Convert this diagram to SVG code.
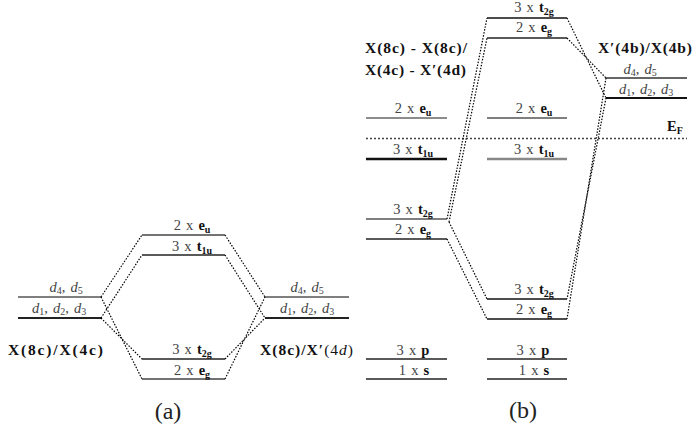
<svg xmlns="http://www.w3.org/2000/svg" width="695" height="429" viewBox="0 0 695 429">
<style>
text{font-family:"Liberation Serif","Times New Roman",serif;}
.lb{font-size:14.5px;fill:#444;word-spacing:1.5px;}
.b{font-weight:bold;fill:#111;}
.sb{font-size:10px;font-weight:bold;fill:#111;}
.s{font-size:10px;}
.i{font-style:italic;}
.big{font-weight:bold;font-size:15.5px;fill:#111;}
.big .r{font-weight:normal;}
.cap{font-size:24px;fill:#222;}
.lv{stroke-linecap:butt;fill:none;}
.dot{stroke:#000;stroke-width:1.2;stroke-dasharray:1.5 1.5;fill:none;}
</style>
<rect width="695" height="429" fill="#fff"/>

<!-- ===== Panel (a) ===== -->
<g id="a-left-d45">
<line class="lv" x1="18" y1="297" x2="101" y2="297" stroke="#555" stroke-width="1.3"/>
<text class="lb" x="66" y="292" text-anchor="middle"><tspan class="i">d</tspan><tspan class="s" dy="2">4</tspan><tspan dy="-2">, </tspan><tspan class="i">d</tspan><tspan class="s" dy="2">5</tspan></text>
</g>
<g id="a-left-d123">
<line class="lv" x1="18" y1="318" x2="101" y2="318" stroke="#222" stroke-width="2"/>
<text class="lb" x="59" y="313" text-anchor="middle"><tspan class="i">d</tspan><tspan class="s" dy="2">1</tspan><tspan dy="-2">, </tspan><tspan class="i">d</tspan><tspan class="s" dy="2">2</tspan><tspan dy="-2">, </tspan><tspan class="i">d</tspan><tspan class="s" dy="2">3</tspan></text>
</g>
<g id="a-left-label">
<text class="big" x="8" y="355" textLength="95" lengthAdjust="spacing">X(8c)/X(4c)</text>
</g>
<g id="a-eu">
<line class="lv" x1="142" y1="235" x2="225" y2="235" stroke="#444" stroke-width="1.4"/>
<text class="lb" x="192" y="230" text-anchor="middle">2 x <tspan class="b">e</tspan><tspan class="sb" dy="2.5">u</tspan></text>
</g>
<g id="a-t1u">
<line class="lv" x1="142" y1="255" x2="225" y2="255" stroke="#222" stroke-width="1.6"/>
<text class="lb" x="192" y="251" text-anchor="middle">3 x <tspan class="b">t</tspan><tspan class="sb" dy="2.5">1u</tspan></text>
</g>
<g id="a-t2g">
<line class="lv" x1="142" y1="359" x2="225" y2="359" stroke="#222" stroke-width="1.6"/>
<text class="lb" x="192" y="354" text-anchor="middle">3 x <tspan class="b">t</tspan><tspan class="sb" dy="2.5">2g</tspan></text>
</g>
<g id="a-eg">
<line class="lv" x1="142" y1="379" x2="225" y2="379" stroke="#444" stroke-width="1.4"/>
<text class="lb" x="192" y="375" text-anchor="middle">2 x <tspan class="b">e</tspan><tspan class="sb" dy="2.5">g</tspan></text>
</g>
<g id="a-right-d45">
<line class="lv" x1="265" y1="297" x2="349" y2="297" stroke="#555" stroke-width="1.3"/>
<text class="lb" x="307" y="292" text-anchor="middle"><tspan class="i">d</tspan><tspan class="s" dy="2">4</tspan><tspan dy="-2">, </tspan><tspan class="i">d</tspan><tspan class="s" dy="2">5</tspan></text>
</g>
<g id="a-right-d123">
<line class="lv" x1="265" y1="318" x2="349" y2="318" stroke="#222" stroke-width="2"/>
<text class="lb" x="307" y="313" text-anchor="middle"><tspan class="i">d</tspan><tspan class="s" dy="2">1</tspan><tspan dy="-2">, </tspan><tspan class="i">d</tspan><tspan class="s" dy="2">2</tspan><tspan dy="-2">, </tspan><tspan class="i">d</tspan><tspan class="s" dy="2">3</tspan></text>
</g>
<g id="a-right-label">
<text class="big" x="260" y="355" textLength="93" lengthAdjust="spacing">X(8c)/X′<tspan class="r">(4</tspan><tspan class="r" font-style="italic">d</tspan><tspan class="r">)</tspan></text>
</g>
<g id="a-caption">
<text class="cap" x="168" y="419" text-anchor="middle">(a)</text>
</g>

<!-- ===== Panel (b) ===== -->
<g id="b-left-label">
<text class="big" x="365" y="53" textLength="102" lengthAdjust="spacing">X(8c) - X(8c)/</text>
<text class="big" x="365" y="75" textLength="101" lengthAdjust="spacing">X(4c) - X′(4d)</text>
</g>
<g id="b-right-label">
<text class="big" x="598" y="53" textLength="94" lengthAdjust="spacing">X′(4b)/X(4b)</text>
</g>
<g id="b-top-t2g">
<line class="lv" x1="487" y1="18" x2="567" y2="18" stroke="#111" stroke-width="1.5"/>
<text class="lb" x="534" y="12" text-anchor="middle">3 x <tspan class="b">t</tspan><tspan class="sb" dy="2.5">2g</tspan></text>
</g>
<g id="b-top-eg">
<line class="lv" x1="487" y1="38" x2="567" y2="38" stroke="#222" stroke-width="1.5"/>
<text class="lb" x="534" y="32" text-anchor="middle">2 x <tspan class="b">e</tspan><tspan class="sb" dy="2.5">g</tspan></text>
</g>
<g id="b-right-d45">
<line class="lv" x1="606" y1="78" x2="687" y2="78" stroke="#333" stroke-width="1.3"/>
<text class="lb" x="640" y="74" text-anchor="middle"><tspan class="i">d</tspan><tspan class="s" dy="2">4</tspan><tspan dy="-2">, </tspan><tspan class="i">d</tspan><tspan class="s" dy="2">5</tspan></text>
</g>
<g id="b-right-d123">
<line class="lv" x1="606" y1="98" x2="687" y2="98" stroke="#111" stroke-width="1.8"/>
<text class="lb" x="646" y="94" text-anchor="middle"><tspan class="i">d</tspan><tspan class="s" dy="2">1</tspan><tspan dy="-2">, </tspan><tspan class="i">d</tspan><tspan class="s" dy="2">2</tspan><tspan dy="-2">, </tspan><tspan class="i">d</tspan><tspan class="s" dy="2">3</tspan></text>
</g>
<g id="b-left-eu">
<line class="lv" x1="366" y1="118" x2="447" y2="118" stroke="#666" stroke-width="1.5"/>
<text class="lb" x="413" y="113" text-anchor="middle">2 x <tspan class="b">e</tspan><tspan class="sb" dy="2.5">u</tspan></text>
</g>
<g id="b-mid-eu">
<line class="lv" x1="487" y1="118" x2="567" y2="118" stroke="#555" stroke-width="1.5"/>
<text class="lb" x="534" y="113" text-anchor="middle">2 x <tspan class="b">e</tspan><tspan class="sb" dy="2.5">u</tspan></text>
</g>
<g id="b-fermi">
<line x1="366" y1="138.5" x2="687" y2="138.5" stroke="#444" stroke-width="1.4" stroke-dasharray="2 2"/>
<text class="lb" x="667" y="131"><tspan class="b">E</tspan><tspan class="sb" dy="2.5">F</tspan></text>
</g>
<g id="b-left-t1u">
<line class="lv" x1="366" y1="159" x2="447" y2="159" stroke="#111" stroke-width="2.6"/>
<text class="lb" x="413" y="154" text-anchor="middle">3 x <tspan class="b">t</tspan><tspan class="sb" dy="2.5">1u</tspan></text>
</g>
<g id="b-mid-t1u">
<line class="lv" x1="487" y1="159" x2="567" y2="159" stroke="#888" stroke-width="2.6"/>
<text class="lb" x="534" y="154" text-anchor="middle">3 x <tspan class="b">t</tspan><tspan class="sb" dy="2.5">1u</tspan></text>
</g>
<g id="b-left-t2g">
<line class="lv" x1="366" y1="219" x2="447" y2="219" stroke="#555" stroke-width="1.4"/>
<text class="lb" x="413" y="214" text-anchor="middle">3 x <tspan class="b">t</tspan><tspan class="sb" dy="2.5">2g</tspan></text>
</g>
<g id="b-left-eg">
<line class="lv" x1="366" y1="239" x2="447" y2="239" stroke="#222" stroke-width="1.5"/>
<text class="lb" x="413" y="234" text-anchor="middle">2 x <tspan class="b">e</tspan><tspan class="sb" dy="2.5">g</tspan></text>
</g>
<g id="b-mid-t2g">
<line class="lv" x1="487" y1="299" x2="567" y2="299" stroke="#111" stroke-width="1.5"/>
<text class="lb" x="534" y="294" text-anchor="middle">3 x <tspan class="b">t</tspan><tspan class="sb" dy="2.5">2g</tspan></text>
</g>
<g id="b-mid-eg">
<line class="lv" x1="487" y1="319" x2="567" y2="319" stroke="#111" stroke-width="1.5"/>
<text class="lb" x="534" y="314" text-anchor="middle">2 x <tspan class="b">e</tspan><tspan class="sb" dy="2.5">g</tspan></text>
</g>
<g id="b-left-p">
<line class="lv" x1="366" y1="359" x2="447" y2="359" stroke="#222" stroke-width="1.5"/>
<text class="lb" x="413" y="355" text-anchor="middle">3 x <tspan class="b">p</tspan></text>
</g>
<g id="b-left-s">
<line class="lv" x1="366" y1="379" x2="447" y2="379" stroke="#222" stroke-width="1.5"/>
<text class="lb" x="414" y="375" text-anchor="middle">1 x <tspan class="b">s</tspan></text>
</g>
<g id="b-mid-p">
<line class="lv" x1="487" y1="359" x2="567" y2="359" stroke="#222" stroke-width="1.5"/>
<text class="lb" x="533" y="355" text-anchor="middle">3 x <tspan class="b">p</tspan></text>
</g>
<g id="b-mid-s">
<line class="lv" x1="487" y1="379" x2="567" y2="379" stroke="#222" stroke-width="1.5"/>
<text class="lb" x="534" y="375" text-anchor="middle">1 x <tspan class="b">s</tspan></text>
</g>
<g id="b-caption">
<text class="cap" x="523" y="418" text-anchor="middle">(b)</text>
</g>

<!-- ===== Connectors ===== -->
<g id="connectors">
<line class="dot" x1="101" y1="297" x2="142" y2="235"/>
<line class="dot" x1="101" y1="318" x2="142" y2="255"/>
<line class="dot" x1="101" y1="297" x2="142" y2="379"/>
<line class="dot" x1="101" y1="318" x2="142" y2="359"/>
<line class="dot" x1="225" y1="235" x2="265" y2="297"/>
<line class="dot" x1="225" y1="255" x2="265" y2="318"/>
<line class="dot" x1="225" y1="379" x2="265" y2="297"/>
<line class="dot" x1="225" y1="359" x2="265" y2="318"/>
<line class="dot" x1="447" y1="219" x2="487" y2="18"/>
<line class="dot" x1="449" y1="222" x2="487" y2="38"/>
<line class="dot" x1="449" y1="222" x2="487" y2="299"/>
<line class="dot" x1="447" y1="239" x2="487" y2="319"/>
<line class="dot" x1="567" y1="18" x2="606" y2="98"/>
<line class="dot" x1="567" y1="38" x2="606" y2="78"/>
<line class="dot" x1="606" y1="78" x2="567" y2="319"/>
<line class="dot" x1="606" y1="98" x2="567" y2="299"/>
</g>
</svg>
